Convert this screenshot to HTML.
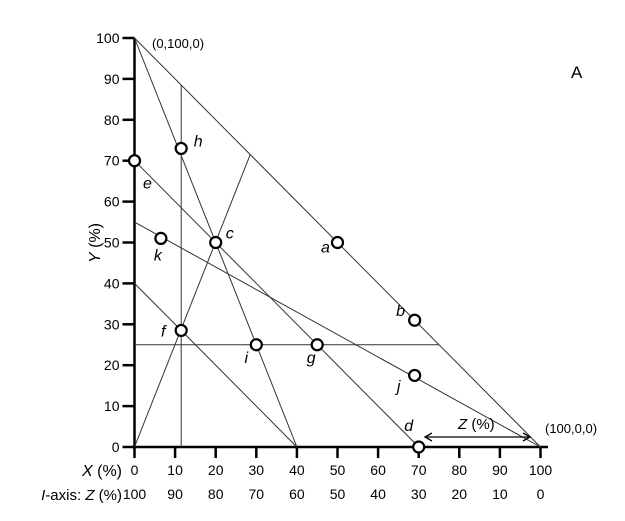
<!DOCTYPE html>
<html><head><meta charset="utf-8"><style>
body{margin:0;background:#fff}
svg{display:block;font-family:"Liberation Sans",sans-serif}
</style></head><body>
<svg width="625" height="521" viewBox="0 0 625 521">
<g id="ax"></g>
<g id="lines"></g>
<g id="pts"></g>
<text x="152" y="48" font-size="13">(0,100,0)</text>
<text x="545" y="433" font-size="13">(100,0,0)</text>
<text x="571" y="78" font-size="17">A</text>
<text transform="translate(100,243) rotate(-90)" text-anchor="middle" font-size="16"><tspan font-style="italic">Y</tspan> (%)</text>
<text x="122" y="476" text-anchor="end" font-size="16"><tspan font-style="italic">X</tspan> (%)</text>
<text x="122" y="500" text-anchor="end" font-size="15"><tspan font-style="italic">I</tspan>-axis: <tspan font-style="italic">Z</tspan> (%)</text>
<text x="458" y="429" font-size="15"><tspan font-style="italic">Z</tspan> (%)</text>
<g stroke="#000" stroke-width="1.3" fill="none">
<line x1="425" y1="437" x2="530" y2="437"/>
<polyline points="432,433 425,437 432,441"/><polyline points="523,433 530,437 523,441"/>
</g>
</svg>
<script>
const NS="http://www.w3.org/2000/svg";
const X0=134.5,X1=540.5,Y0=447,Y1=38;
const sx=v=>X0+(X1-X0)*v/100, sy=v=>Y0-(Y0-Y1)*v/100;
const xTicks=[0,10,20,30,40,50,60,70,80,90,100];
const zTicks=[100,90,80,70,60,50,40,30,20,10,0];
const yTicks=[0,10,20,30,40,50,60,70,80,90,100];
const segs=[[0,100,100,0],[0,100,40,0],[0,70,70,0],[0,55,100,0],[0,40,40,0],[0,0,28.5,71.5],[11.5,0,11.5,88.5],[0,25,75,25]];
const ptNames=["a","b","c","d","e","f","g","h","i","j","k"];
const ptX=[50,69,20,70,0,11.5,45,11.5,30,69,6.5];
const ptY=[50,31,50,0,70,28.5,25,73,25,17.5,51];
const lblDx=[-12,-14,14,-10,13,-18,-6,17,-10,-16,-3];
const lblDy=[10,-4,-4,-16,28,6,18,-2,18,16,22];
function mk(t,a,p){const e=document.createElementNS(NS,t);for(const k in a)e.setAttribute(k,a[k]);p.appendChild(e);return e;}
const ax=document.getElementById('ax'),ln=document.getElementById('lines'),pg=document.getElementById('pts');
let e=mk('line',{x1:X0,y1:Y1,x2:X0,y2:Y0+2,stroke:'#000','stroke-width':2.5},ax);


e=mk('line',{x1:X0-2,y1:Y0,x2:548,y2:Y0,stroke:'#000','stroke-width':2.5},ax);


yTicks.forEach(v=>{
 e=mk('line',{x1:X0-12,y1:sy(v),x2:X0,y2:sy(v),stroke:'#000','stroke-width':2.5},ax);
 
 
 e=mk('text',{x:X0-15,y:sy(v)+5,'text-anchor':'end','font-size':14},ax);e.textContent=v;
 
 
});
xTicks.forEach((v,i)=>{
 e=mk('line',{x1:sx(v),y1:Y0,x2:sx(v),y2:Y0+11,stroke:'#000','stroke-width':2.5},ax);
 
 
 e=mk('text',{x:sx(v),y:475,'text-anchor':'middle','font-size':14},ax);e.textContent=v;
 
 
 e=mk('text',{x:sx(v),y:499,'text-anchor':'middle','font-size':14},ax);e.textContent=zTicks[i];
 
 
});
segs.forEach(s=>{
 e=mk('line',{x1:sx(s[0]),y1:sy(s[1]),x2:sx(s[2]),y2:sy(s[3]),stroke:'#333','stroke-width':1},ln);
 
 
});
ptNames.forEach((n,i)=>{
 e=mk('circle',{cx:sx(ptX[i]),cy:sy(ptY[i]),r:5.5,fill:'#fff',stroke:'#000','stroke-width':2.2},pg);
 
 
 e=mk('text',{x:sx(ptX[i])+lblDx[i],y:sy(ptY[i])+lblDy[i],'font-size':16,'font-style':'italic','text-anchor':'middle'},pg);e.textContent=n;
 
 
});
</script>
</body></html>
